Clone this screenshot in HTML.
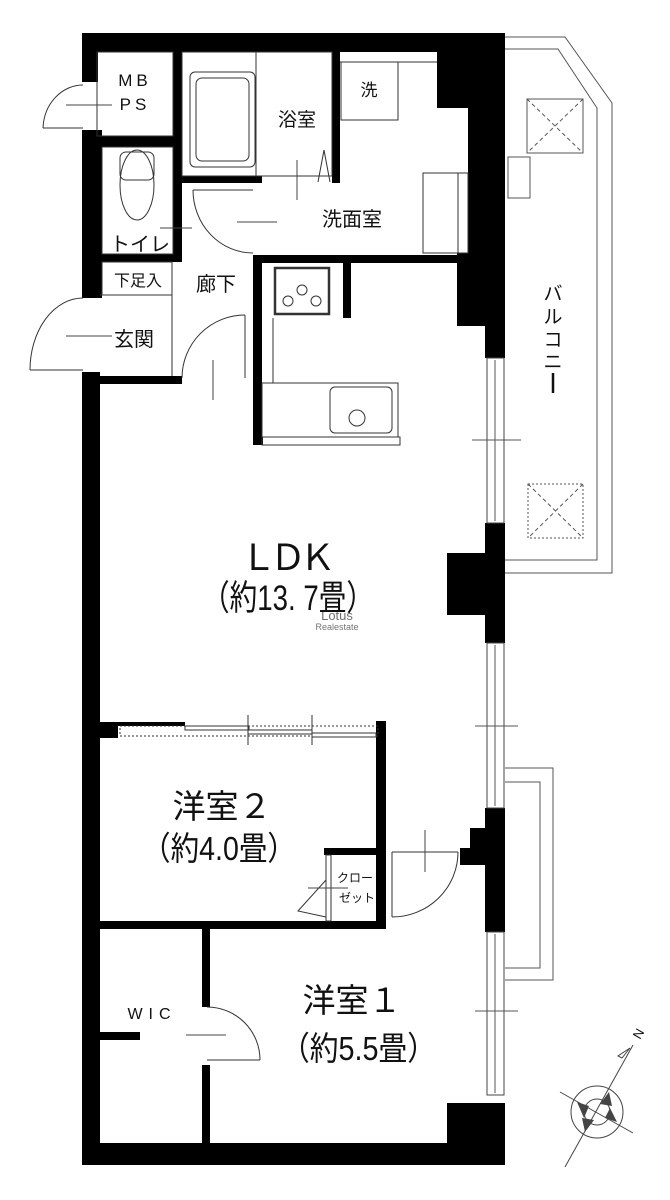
<!DOCTYPE html>
<html><head><meta charset="utf-8"><style>
html,body{margin:0;padding:0;background:#fff;}
svg{display:block;}
text{font-family:"Liberation Sans","Noto Sans CJK JP",sans-serif;fill:#111;}
</style></head><body>
<svg width="670" height="1200" viewBox="0 0 670 1200" xmlns="http://www.w3.org/2000/svg">
<rect width="670" height="1200" fill="#fff"/>
<g fill="none" stroke="#555" stroke-width="1">
<polyline points="505,37 565,37 612,103 612,573 505,573"/>
<polyline points="505,49 558,49 597,108 597,560 505,560"/>
<rect x="527" y="99" width="56" height="54"/>
<line x1="527" y1="99" x2="583" y2="153" stroke-dasharray="4,3"/><line x1="583" y1="99" x2="527" y2="153" stroke-dasharray="4,3"/>
<rect x="508" y="157" width="22" height="41"/>
<rect x="528" y="484" width="55" height="54" stroke-dasharray="2,2"/>
<line x1="528" y1="484" x2="583" y2="538" stroke-dasharray="4,3"/><line x1="583" y1="484" x2="528" y2="538" stroke-dasharray="4,3"/>
<polyline points="505,768 553,768 553,980 505,980"/>
<polyline points="505,782 540,782 540,968 505,968"/>
</g>
<text x="553" y="300" font-size="19" text-anchor="middle">バ</text>
<text x="553" y="323" font-size="19" text-anchor="middle">ル</text>
<text x="553" y="346" font-size="19" text-anchor="middle">コ</text>
<text x="553" y="368" font-size="19" text-anchor="middle">ニ</text>
<line x1="553" y1="373" x2="553" y2="393" stroke="#111" stroke-width="2.5"/>

<g fill="#000">
<rect x="82" y="33" width="423" height="19"/>
<rect x="437" y="33" width="68" height="75"/>
<rect x="468" y="100" width="37" height="158"/>
<rect x="457" y="253" width="48" height="73"/>
<rect x="485" y="320" width="20" height="38"/>
<rect x="485" y="523" width="20" height="120"/>
<rect x="447" y="553" width="58" height="62"/>
<rect x="485" y="808" width="20" height="124"/>
<rect x="470" y="828" width="20" height="22"/>
<rect x="460" y="848" width="30" height="17"/>
<rect x="447" y="1103" width="58" height="62"/>
<rect x="82" y="1143" width="423" height="22"/>
<rect x="82" y="33" width="16" height="49"/>
<rect x="82" y="130" width="20" height="168"/>
<rect x="82" y="372" width="18" height="793"/>
<rect x="173" y="52" width="9" height="208"/>
<rect x="82" y="136" width="100" height="11"/>
<rect x="82" y="254" width="100" height="8"/>
<rect x="82" y="376" width="100" height="8"/>
<rect x="332" y="52" width="8" height="131"/>
<rect x="182" y="176" width="80" height="7"/>
<rect x="253" y="255" width="215" height="8"/>
<rect x="253" y="255" width="9" height="190"/>
<rect x="343" y="263" width="8" height="55"/>
<rect x="255" y="437" width="8" height="8"/>
<rect x="100" y="722" width="18" height="16"/>
<rect x="118" y="722" width="67" height="4"/>
<rect x="376" y="721" width="10" height="207"/>
<rect x="100" y="921" width="286" height="8"/>
<rect x="324" y="848" width="62" height="7"/>
<rect x="202" y="929" width="8" height="78"/>
<rect x="202" y="1065" width="8" height="78"/>
<rect x="100" y="1032" width="40" height="8"/>
</g>

<g fill="#fff" stroke="#444" stroke-width="1">
<rect x="487" y="358" width="17" height="165"/>
<rect x="487" y="643" width="17" height="165"/>
<rect x="487" y="932" width="17" height="163"/>
</g>
<g stroke="#555" stroke-width="1">
<line x1="495" y1="360" x2="495" y2="521"/><line x1="495" y1="645" x2="495" y2="806"/><line x1="495" y1="934" x2="495" y2="1093"/>
<line x1="472" y1="440" x2="521" y2="440"/><line x1="475" y1="726" x2="518" y2="726"/><line x1="475" y1="1011" x2="518" y2="1011"/>
</g>

<g fill="none" stroke="#333" stroke-width="1">
<rect x="97" y="52" width="76" height="84"/>
<rect x="182" y="52" width="150" height="124"/>
<line x1="256" y1="52" x2="256" y2="176"/>
<rect x="190" y="72" width="65" height="95" rx="5"/>
<rect x="196" y="78" width="53" height="83" rx="6"/>
<rect x="341" y="62" width="57" height="58"/>
<line x1="340" y1="62" x2="437" y2="62"/>
<rect x="423" y="173" width="45" height="80"/>
<line x1="458" y1="173" x2="458" y2="253"/>
<rect x="102" y="147" width="71" height="107"/>
<ellipse cx="137" cy="185" rx="17" ry="35"/>
<rect x="120" y="152" width="34" height="28" rx="6"/>
<rect x="102" y="262" width="70" height="33"/>
<polyline points="100,295 172,295 172,376"/>
<rect x="275" y="268" width="54" height="46" stroke-width="2.5"/>
<circle cx="302" cy="290" r="5"/><circle cx="288" cy="301" r="5"/><circle cx="316" cy="301" r="5"/>
<line x1="273" y1="318" x2="273" y2="383"/>
<rect x="262" y="383" width="136" height="54"/>
<rect x="330" y="387" width="62" height="46" rx="5"/>
<circle cx="357" cy="418" r="8"/>
<rect x="262" y="437" width="138" height="8"/>
<rect x="120" y="726" width="258" height="10" stroke-dasharray="2,2"/>
<rect x="185" y="726" width="64" height="4" fill="#fff"/>
<rect x="248" y="730" width="64" height="4" fill="#fff"/>
<rect x="312" y="733" width="64" height="4" fill="#fff"/>
<line x1="248" y1="715" x2="248" y2="745"/><line x1="312" y1="715" x2="312" y2="745"/>
<rect x="326" y="855" width="5" height="66"/>
<polyline points="326,880 298,911 326,917"/>
<path d="M43,128 A40,45 0 0 1 83,85"/><line x1="43" y1="128" x2="83" y2="128"/>
<path d="M30,370 A53,72 0 0 1 83,298"/><line x1="30" y1="370" x2="83" y2="370"/>
<path d="M193,190 A60,63 0 0 0 253,253"/><line x1="193" y1="190" x2="253" y2="190"/>
<path d="M245,315 A63,63 0 0 0 182,378"/><line x1="245" y1="315" x2="245" y2="378"/>
<path d="M207,1007 A53,53 0 0 1 260,1060"/><line x1="207" y1="1060" x2="260" y2="1060"/>
<path d="M392,917 A66,65 0 0 0 458,852"/><line x1="392" y1="852" x2="392" y2="917"/>
<line x1="392" y1="852" x2="458" y2="852"/>
<polyline points="318,182 324,150 330,182"/>
</g>
<g stroke="#444" stroke-width="1">
<line x1="66" y1="105" x2="112" y2="105"/><line x1="66" y1="336" x2="112" y2="336"/>
<line x1="160" y1="228" x2="192" y2="228"/><line x1="237" y1="222" x2="277" y2="222"/>
<line x1="297" y1="160" x2="297" y2="200"/><line x1="213" y1="360" x2="213" y2="400"/>
<line x1="308" y1="888" x2="348" y2="888"/><line x1="425" y1="830" x2="425" y2="872"/>
<line x1="186" y1="1035" x2="226" y2="1035"/>
</g>

<text x="135" y="86" font-size="17" text-anchor="middle" letter-spacing="4">MB</text>
<text x="135" y="110" font-size="17" text-anchor="middle" letter-spacing="4">PS</text>
<text x="297" y="126" font-size="19" text-anchor="middle">浴室</text>
<text x="369" y="96" font-size="17" text-anchor="middle">洗</text>
<text x="352" y="226" font-size="20" text-anchor="middle">洗面室</text>
<text x="140" y="251" font-size="20" text-anchor="middle">トイレ</text>
<text x="138" y="286" font-size="16" text-anchor="middle">下足入</text>
<text x="216" y="291" font-size="20" text-anchor="middle">廊下</text>
<text x="134" y="346" font-size="20" text-anchor="middle">玄関</text>
<text x="288" y="570" font-size="36" text-anchor="middle" textLength="95" lengthAdjust="spacing">ＬＤＫ</text>
<text x="202" y="610" font-size="35" textLength="172" lengthAdjust="spacingAndGlyphs">（約13. 7畳）</text>
<text x="337" y="620" font-size="13" fill="#d9a070" text-anchor="middle" opacity="0.6">Lotus</text>
<text x="337" y="630" font-size="9" fill="#c99" text-anchor="middle" opacity="0.6">Realestate</text>
<text x="222" y="818" font-size="33" text-anchor="middle">洋室２</text>
<text x="142" y="860" font-size="33" textLength="154" lengthAdjust="spacingAndGlyphs">（約4.0畳）</text>
<text x="352" y="1012" font-size="33" text-anchor="middle">洋室１</text>
<text x="281" y="1060" font-size="33" textLength="155" lengthAdjust="spacingAndGlyphs">（約5.5畳）</text>
<text x="152" y="1019" font-size="16" text-anchor="middle" letter-spacing="6">WIC</text>
<text x="355" y="882" font-size="12" text-anchor="middle">クロー</text>
<text x="357" y="902" font-size="12" text-anchor="middle">ゼット</text>

<g fill="none" stroke="#444" stroke-width="1">
<line x1="565" y1="1167" x2="633" y2="1045"/>
<line x1="560" y1="1092" x2="633" y2="1133"/>
<circle cx="597" cy="1112" r="26"/>
<circle cx="597" cy="1112" r="13"/>
<path d="M630,1048 l-8,10 l-4,-2 z" fill="#fff"/>
</g>
<g fill="#444">
<polygon points="577,1102 589,1106 584,1118"/><polygon points="609,1092 612,1106 600,1104"/>
<polygon points="617,1122 605,1118 610,1108"/><polygon points="585,1132 582,1118 594,1120"/>
</g>
<text x="640" y="1040" font-size="13" transform="rotate(-60 640 1040)">N</text>
</svg>
</body></html>
